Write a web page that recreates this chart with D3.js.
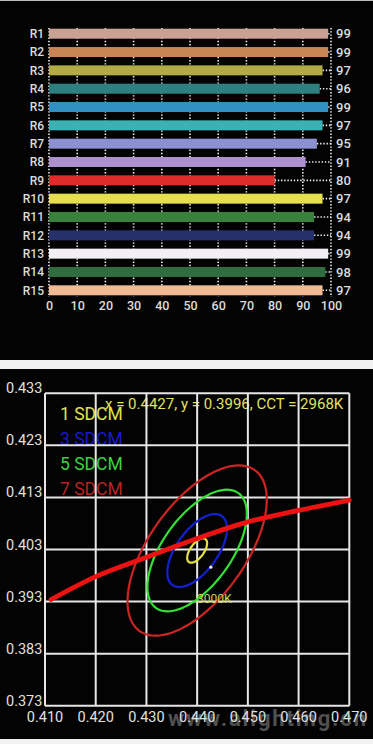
<!DOCTYPE html>
<html>
<head>
<meta charset="utf-8">
<script src="https://cdn.jsdelivr.net/npm/d3@7"></script>
<style>
  html, body { margin: 0; padding: 0; background: #f2f2f2; }
  svg { display: block; }
  text { font-family: Roboto, "Noto Sans", sans-serif; }
</style>
</head>
<body>
<svg id="chart" width="373" height="744"></svg>
<script>
// ---------- Top chart data (CRI R1..R15) ----------
const riNames = ["R1","R2","R3","R4","R5","R6","R7","R8","R9","R10","R11","R12","R13","R14","R15"];
const riValues = [99, 99, 97, 96, 99, 97, 95, 91, 80, 97, 94, 94, 99, 98, 97];
const riColors = ["#c9a294","#c98455","#b2aa45","#2f7f80","#3192c2","#3ab2b4","#8c8fd0","#ae90cf","#e02b2b","#e6e050","#3a803d","#26306a","#f2eff5","#2f6d3f","#f1ba92"];
const riTicks = [0, 10, 20, 30, 40, 50, 60, 70, 80, 90, 100];

// ---------- Bottom chart data (CIE xy, SDCM ellipses) ----------
const xTicks = [0.410, 0.420, 0.430, 0.440, 0.450, 0.460, 0.470];
const yTicks = [0.373, 0.383, 0.393, 0.403, 0.413, 0.423, 0.433];
const locusX = [0.4112, 0.420, 0.430, 0.440, 0.450, 0.460, 0.470];
const locusY = [0.3934, 0.3978, 0.4015, 0.4051, 0.4083, 0.4105, 0.4125];
const sdcmSteps = [1, 3, 5, 7];
const sdcmLabels = ["1 SDCM", "3 SDCM", "5 SDCM", "7 SDCM"];
const sdcmColors = ["#e6e040", "#1420d0", "#34e034", "#cc2424"];
const sdcmTextColors = ["#e0e050", "#1a1ac8", "#40d040", "#b82222"];
const ellipseCenter = [0.4400, 0.4028];
const ellipseA = 0.00274, ellipseB = 0.00134, ellipseTheta = 53.2; // 1-step MacAdam params
const measured = { x: 0.4427, y: 0.3996 };
const titleText = "x = 0.4427, y = 0.3996, CCT = 2968K";
const cctLabel = "3000K";

const svg = d3.select("#chart");

// ---------- panels ----------
svg.append("rect").attr("x", 0).attr("y", 0).attr("width", 373).attr("height", 1).attr("fill", "#bdbdbd");
svg.append("rect").attr("x", 0).attr("y", 1).attr("width", 373).attr("height", 359).attr("fill", "#030303");
svg.append("rect").attr("x", 0).attr("y", 369).attr("width", 373).attr("height", 370).attr("fill", "#030303");

// ================= TOP CHART =================
const xs = d3.scaleLinear().domain([0, 100]).range([49, 331]);
const ys = d3.scalePoint().domain(riNames).range([33.7, 290.3]);
const barH = 10;
const gTop = svg.append("g");

// vertical dotted grid
gTop.selectAll("line.vg").data(riTicks).join("line")
  .attr("x1", d => xs(d)).attr("x2", d => xs(d))
  .attr("y1", 28).attr("y2", 297)
  .attr("stroke", "#f0f0f0").attr("stroke-width", 1.6)
  .attr("stroke-dasharray", "1.4,1.8");

// horizontal dotted from bar end to 100
gTop.selectAll("line.hg").data(riValues).join("line")
  .attr("x1", d => xs(d)).attr("x2", xs(100))
  .attr("y1", (d, i) => ys(riNames[i])).attr("y2", (d, i) => ys(riNames[i]))
  .attr("stroke", "#f0f0f0").attr("stroke-width", 1.6)
  .attr("stroke-dasharray", "1.4,1.8");

// bars
gTop.selectAll("rect.bar").data(riValues).join("rect")
  .attr("x", xs(0))
  .attr("y", (d, i) => ys(riNames[i]) - barH / 2)
  .attr("width", d => xs(d) - xs(0))
  .attr("height", barH)
  .attr("fill", (d, i) => riColors[i]);

// category labels
gTop.selectAll("text.cat").data(riNames).join("text")
  .attr("x", 44).attr("y", d => ys(d) + 4.3)
  .attr("text-anchor", "end")
  .attr("font-size", 12).attr("font-weight", 500)
  .attr("fill", "#dcdcdc")
  .text(d => d);

// value labels
gTop.selectAll("text.val").data(riValues).join("text")
  .attr("x", 336).attr("y", (d, i) => ys(riNames[i]) + 4.6)
  .attr("font-size", 13).attr("font-weight", 500)
  .attr("fill", "#dcdcdc")
  .text(d => d);

// x axis tick labels
const topAxis = gTop.append("g").attr("transform", "translate(0,300)")
  .call(d3.axisBottom(xs).tickValues(riTicks).tickSize(0).tickPadding(0).tickFormat(d3.format("d")));
topAxis.select(".domain").remove();
topAxis.selectAll("text").attr("font-size", 12.5).attr("font-weight", 500)
  .attr("fill", "#dcdcdc").attr("font-family", "Roboto, sans-serif").attr("dy", "0.8em");

// ================= BOTTOM CHART =================
const cx = d3.scaleLinear().domain([0.410, 0.470]).range([45, 349.3]);
const cy = d3.scaleLinear().domain([0.373, 0.433]).range([705.7, 393.3]);
const gBot = svg.append("g");

// legend
gBot.selectAll("text.leg").data(sdcmLabels).join("text")
  .attr("x", 60).attr("y", (d, i) => 419.5 + i * 25)
  .attr("font-size", 17.5).attr("fill", (d, i) => sdcmTextColors[i])
  .text(d => d);

// title
gBot.append("text").attr("x", 105).attr("y", 408.5)
  .attr("font-size", 15).attr("fill", "#e2e262")
  .text(titleText);

// grid
gBot.selectAll("line.gx").data(xTicks).join("line")
  .attr("x1", d => cx(d)).attr("x2", d => cx(d))
  .attr("y1", cy(0.433)).attr("y2", cy(0.373))
  .attr("stroke", "#e6e6e6").attr("stroke-width", 2);
gBot.selectAll("line.gy").data(yTicks).join("line")
  .attr("x1", cx(0.410)).attr("x2", cx(0.470))
  .attr("y1", d => cy(d)).attr("y2", d => cy(d))
  .attr("stroke", "#e6e6e6").attr("stroke-width", 2);

// y labels
gBot.selectAll("text.yl").data(yTicks).join("text")
  .attr("x", 6).attr("y", d => cy(d))
  .attr("font-size", 14.5).attr("fill", "#e0e0e0")
  .text(d => d3.format(".3f")(d));

// watermark (under the x labels)
gBot.append("text").attr("x", 168).attr("y", 726)
  .attr("font-size", 22).attr("font-weight", "bold")
  .attr("textLength", 198).attr("lengthAdjust", "spacing")
  .attr("fill", "#505050")
  .text("www.alighting.cn");

// x labels
gBot.selectAll("text.xl").data(xTicks).join("text")
  .attr("x", d => cx(d)).attr("y", 722)
  .attr("text-anchor", "middle")
  .attr("font-size", 14.5).attr("fill", "#e0e0e0")
  .text(d => d3.format(".3f")(d));

// ellipses
const th = ellipseTheta * Math.PI / 180;
const phis = d3.range(0, 360, 4).map(d => d * Math.PI / 180);
const ellLine = d3.line().x(p => cx(p[0])).y(p => cy(p[1])).curve(d3.curveCardinalClosed);
sdcmSteps.forEach((k, i) => {
  const pts = phis.map(f => {
    const u = k * ellipseA * Math.cos(f), v = k * ellipseB * Math.sin(f);
    return [ellipseCenter[0] + u * Math.cos(th) - v * Math.sin(th),
            ellipseCenter[1] + u * Math.sin(th) + v * Math.cos(th)];
  });
  gBot.append("path").attr("d", ellLine(pts))
    .attr("fill", "none").attr("stroke", sdcmColors[i]).attr("stroke-width", 2.2);
});

// planckian locus
const locus = locusX.map((x, i) => [x, locusY[i]]);
gBot.append("path")
  .attr("d", d3.line().x(p => cx(p[0])).y(p => cy(p[1])).curve(d3.curveMonotoneX)(locus))
  .attr("fill", "none").attr("stroke", "#ec1212").attr("stroke-width", 4.8)
  .attr("stroke-linecap", "round");

// 3000K label
gBot.append("text").attr("x", 197).attr("y", 602.5)
  .attr("font-size", 12).attr("fill", "#cfd84a").text(cctLabel);

// measured point
gBot.append("circle").attr("cx", cx(measured.x)).attr("cy", cy(measured.y))
  .attr("r", 1.6).attr("fill", "#f4f0c0");
</script>
</body>
</html>
